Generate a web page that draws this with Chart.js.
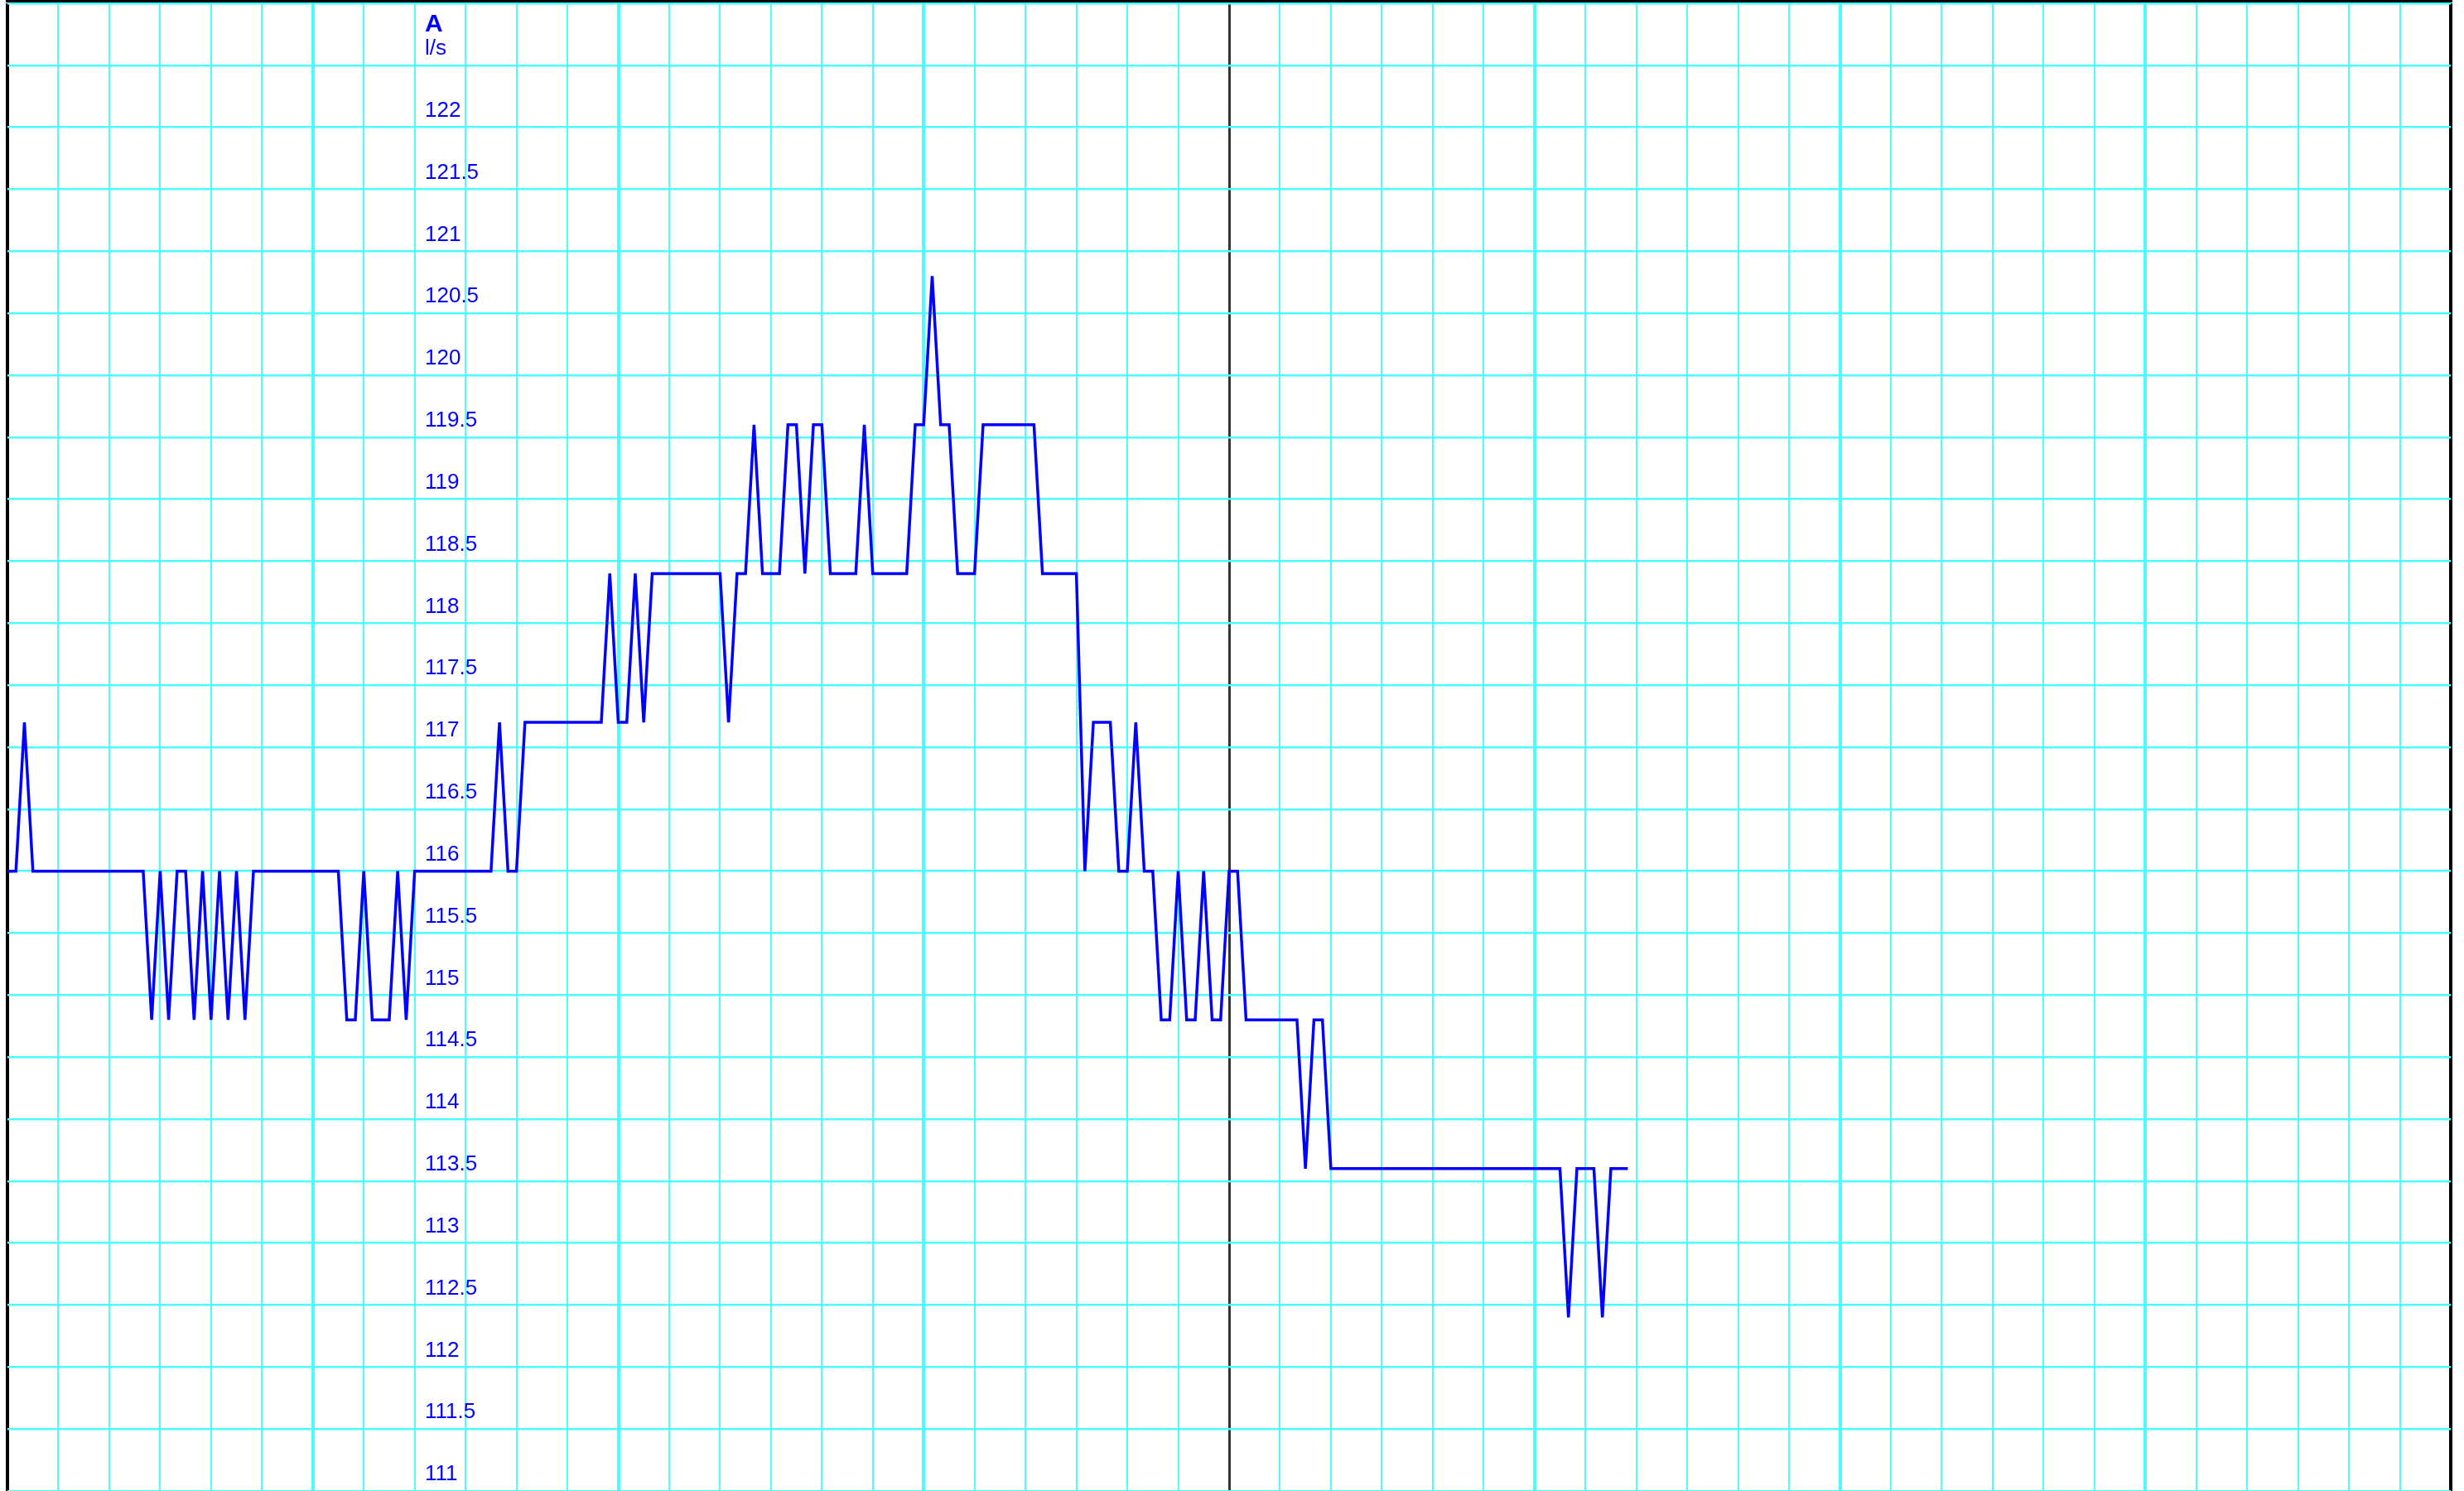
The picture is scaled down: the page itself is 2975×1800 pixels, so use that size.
<!DOCTYPE html>
<html>
<head>
<meta charset="utf-8">
<title>A - l/s</title>
<script src="https://cdn.jsdelivr.net/npm/chart.js@4.4.1/dist/chart.umd.min.js"></script>
<style>
  html, body { margin: 0; padding: 0; background: #fff; overflow: hidden; }
  #wrap { width: 2975px; height: 1800px; position: relative; }
</style>
</head>
<body>
<div id="wrap"><canvas id="flowChart"></canvas></div>
<script>
// Valeurs relevées (un échantillon par pas de temps)
const flowValues = [
  116, 116, 117.2, 116, 116, 116, 116, 116, 116, 116,
  116, 116, 116, 116, 116, 116, 116, 114.8, 116, 114.8,
  116, 116, 114.8, 116, 114.8, 116, 114.8, 116, 114.8, 116,
  116, 116, 116, 116, 116, 116, 116, 116, 116, 116,
  114.8, 114.8, 116, 114.8, 114.8, 114.8, 116, 114.8, 116, 116,
  116, 116, 116, 116, 116, 116, 116, 116, 117.2, 116,
  116, 117.2, 117.2, 117.2, 117.2, 117.2, 117.2, 117.2, 117.2, 117.2,
  117.2, 118.4, 117.2, 117.2, 118.4, 117.2, 118.4, 118.4, 118.4, 118.4,
  118.4, 118.4, 118.4, 118.4, 118.4, 117.2, 118.4, 118.4, 119.6, 118.4,
  118.4, 118.4, 119.6, 119.6, 118.4, 119.6, 119.6, 118.4, 118.4, 118.4,
  118.4, 119.6, 118.4, 118.4, 118.4, 118.4, 118.4, 119.6, 119.6, 120.8,
  119.6, 119.6, 118.4, 118.4, 118.4, 119.6, 119.6, 119.6, 119.6, 119.6,
  119.6, 119.6, 118.4, 118.4, 118.4, 118.4, 118.4, 116, 117.2, 117.2,
  117.2, 116, 116, 117.2, 116, 116, 114.8, 114.8, 116, 114.8,
  114.8, 116, 114.8, 114.8, 116, 116, 114.8, 114.8, 114.8, 114.8,
  114.8, 114.8, 114.8, 113.6, 114.8, 114.8, 113.6, 113.6, 113.6, 113.6,
  113.6, 113.6, 113.6, 113.6, 113.6, 113.6, 113.6, 113.6, 113.6, 113.6,
  113.6, 113.6, 113.6, 113.6, 113.6, 113.6, 113.6, 113.6, 113.6, 113.6,
  113.6, 113.6, 113.6, 113.6, 112.4, 113.6, 113.6, 113.6, 112.4, 113.6,
  113.6, 113.6
];

// Axe du temps : 288 pas, une ligne fine tous les 6, une épaisse tous les 36
const X_MIN = 0;
const X_MAX = 288;
const X_MINOR = 6;
const X_MAJOR = 36;
const X_NOW = 144;

// Axe des valeurs
const Y_MIN = 111;
const Y_MAX = 123;
const Y_STEP = 0.5;
const Y_LAST_LABEL = 122;
const UNIT = "l/s";
const TITLE = "A";

const BLUE = "#0000ff";
const CYAN = "#4dfcfc";
const FONT = '"Liberation Sans", Arial, Helvetica, sans-serif';
const LABEL_PAD = 504;

const points = flowValues.map((v, i) => ({ x: i, y: v }));

// Cadre du haut + titre "A"
const framePlugin = {
  id: "frame",
  afterDraw(chart) {
    const { ctx, chartArea } = chart;
    ctx.save();
    ctx.fillStyle = "#000";
    ctx.fillRect(chartArea.left - 2, 0, chartArea.right - chartArea.left + 4, 3);
    ctx.fillStyle = BLUE;
    ctx.font = "bold 30px " + FONT;
    ctx.textBaseline = "alphabetic";
    ctx.textAlign = "left";
    ctx.fillText(TITLE, chartArea.left + LABEL_PAD, 38);
    ctx.restore();
  }
};

new Chart(document.getElementById("flowChart"), {
  type: "line",
  data: {
    datasets: [{
      label: TITLE,
      data: points,
      borderColor: BLUE,
      borderWidth: 3.5,
      pointRadius: 0,
      tension: 0,
      fill: false
    }]
  },
  options: {
    responsive: true,
    maintainAspectRatio: false,
    animation: false,
    events: [],
    layout: { padding: { left: 9, right: 16, top: 4, bottom: 0 } },
    plugins: {
      legend: { display: false },
      tooltip: { enabled: false },
      title: { display: false }
    },
    scales: {
      x: {
        type: "linear",
        min: X_MIN,
        max: X_MAX,
        ticks: { display: false, stepSize: X_MINOR },
        border: { display: false },
        grid: {
          drawTicks: false,
          color: (c) => {
            const v = c.tick.value;
            if (v === X_MIN || v === X_MAX) return "#000";
            if (v === X_NOW) return "#333";
            return CYAN;
          },
          lineWidth: (c) => {
            const v = c.tick.value;
            if (v === X_MIN || v === X_MAX) return 4;
            if (v === X_NOW) return 3;
            return v % X_MAJOR === 0 ? 4 : 2;
          }
        }
      },
      y: {
        type: "linear",
        position: "left",
        min: Y_MIN,
        max: Y_MAX,
        // les étiquettes sont dans le graphique : l'axe ne prend aucune place
        afterFit: (scale) => {
          scale.width = 0;
          scale.paddingTop = 0;
          scale.paddingBottom = 0;
        },
        border: { display: false },
        grid: { drawTicks: false, color: CYAN, lineWidth: 2.5 },
        ticks: {
          stepSize: Y_STEP,
          mirror: true,
          padding: LABEL_PAD,
          labelOffset: -20,
          color: BLUE,
          font: { family: FONT, size: 26 },
          callback: (v) => {
            if (v > Y_LAST_LABEL + Y_STEP) return "";
            if (v > Y_LAST_LABEL) return UNIT;
            return String(Math.round(v * 10) / 10);
          }
        }
      }
    }
  },
  plugins: [framePlugin]
});
</script>
</body>
</html>
